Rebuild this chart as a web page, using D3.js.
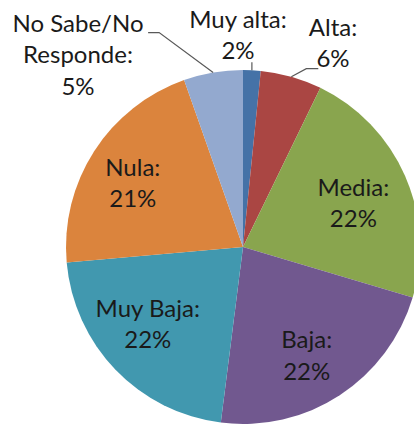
<!DOCTYPE html>
<html>
<head>
<meta charset="utf-8">
<script src="https://cdn.jsdelivr.net/npm/d3@7"></script>
<style>
  body { margin: 0; background: #fff; }
  text { font-family: Lato, "Open Sans", sans-serif; fill: #1a1a1a; }
</style>
</head>
<body>
<div id="chart"></div>
<script>
// categories and shares (percent), clockwise from 12 o'clock
var categories = ["Muy alta", "Alta", "Media", "Baja", "Muy Baja", "Nula", "No Sabe/No Responde"];
var values = [1.6, 5.6, 22.4, 22.4, 21.6, 21.0, 5.4];
var colors = ["#4572A7", "#AA4643", "#89A54E", "#71588F", "#4198AF", "#DB843D", "#93A9CF"];

var width = 414, height = 425,
    cx = 243, cy = 247, radius = 177;

var svg = d3.select("#chart").append("svg")
    .attr("width", width)
    .attr("height", height);

var g = svg.append("g")
    .attr("transform", "translate(" + cx + "," + cy + ")");

var pie = d3.pie().sort(null).value(function(d) { return d.value; });
var arc = d3.arc().innerRadius(0).outerRadius(radius);
var labelArc = d3.arc().innerRadius(radius * 0.7).outerRadius(radius * 0.7);

var data = categories.map(function(c, i) { return {name: c, value: values[i], color: colors[i]}; });
var arcs = pie(data);

g.selectAll(".slice")
    .data(arcs)
    .enter().append("path")
    .attr("class", "slice")
    .attr("d", arc)
    .attr("fill", function(d) { return d.data.color; });

// label lines split the way the picture wraps them
var lines = {
    "Muy alta": ["Muy alta:"],
    "Alta": ["Alta:"],
    "Media": ["Media:"],
    "Baja": ["Baja:"],
    "Muy Baja": ["Muy Baja:"],
    "Nula": ["Nula:"],
    "No Sabe/No Responde": ["No Sabe/No", "Responde:"]
};
// nudges from centroid (inside) or absolute anchors (outside), in px relative to center
var nudge = {
    "Media": [-3, 6],
    "Baja": [-4, 5],
    "Muy Baja": [-6, -9],
    "Nula": [-6, 3]
};
var outside = {
    "Muy alta": [-5, -212],
    "Alta": [90, -204],
    "No Sabe/No Responde": [-165, -192]
};
var lineH = 31.5;

arcs.forEach(function(a) {
    var name = a.data.name;
    var pos;
    if (outside[name]) {
        pos = outside[name];
    } else {
        var c = labelArc.centroid(a), n = nudge[name] || [0, 0];
        pos = [c[0] + n[0], c[1] + n[1]];
    }
    var ls = lines[name].concat([Math.round(a.data.value) + "%"]);
    var t = g.append("text")
        .attr("text-anchor", "middle")
        .attr("font-size", "24px");
    var top = pos[1] - (ls.length - 1) * lineH / 2;
    ls.forEach(function(l, i) {
        t.append("tspan")
            .attr("x", pos[0])
            .attr("y", top + i * lineH)
            .attr("dy", "0.35em")
            .text(l);
    });
});

// leader lines for outside labels
var leaders = {
    "Muy alta": function(p) { return [[p[0], p[1] - 8]]; },
    "Alta": function(p) { return [[p[0] + 15, p[1] - 8], [p[0] + 27, p[1] - 8]]; },
    "No Sabe/No Responde": function(p) { return [[p[0] - 54, p[1] - 40], [p[0] - 65, p[1] - 40]]; }
};
var edgeArc = d3.arc().innerRadius(radius).outerRadius(radius);
arcs.forEach(function(a) {
    var f = leaders[a.data.name];
    if (!f) return;
    var p = edgeArc.centroid(a);
    var pts = [p].concat(f(p));
    g.append("path")
        .attr("d", d3.line()(pts))
        .attr("fill", "none")
        .attr("stroke", "#595959")
        .attr("stroke-width", 1.2);
});
</script>
</body>
</html>
